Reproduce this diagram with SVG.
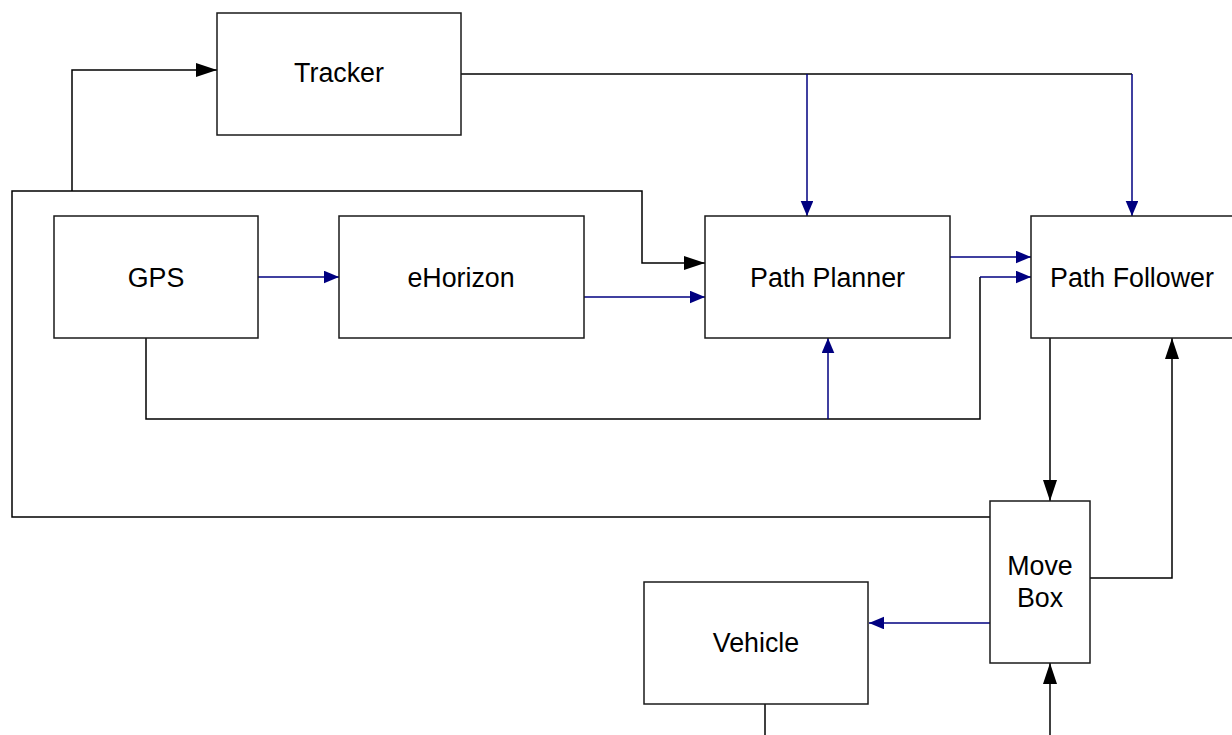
<svg xmlns="http://www.w3.org/2000/svg" width="1232" height="735" viewBox="0 0 1232 735">
<style>
.box{fill:#fff;stroke:#1a1a1a;stroke-width:1.5}
.lbl{font-family:"Liberation Sans",Arial,sans-serif;font-size:26.8px;fill:#000;text-anchor:middle}
.k{fill:none;stroke:#000;stroke-width:1.5}
.b{fill:none;stroke:#000080;stroke-width:1.5}
.ka{marker-end:url(#ah)}
.ba{marker-end:url(#bh)}
</style>
<defs>
<marker id="ah" markerUnits="userSpaceOnUse" markerWidth="22" markerHeight="16" refX="21" refY="7" orient="auto"><path d="M0,0 L21,7 L0,14 Z" fill="#000"/></marker>
<marker id="bh" markerUnits="userSpaceOnUse" markerWidth="16" markerHeight="14" refX="15" refY="6.3" orient="auto"><path d="M0,0 L15,6.3 L0,12.6 Z" fill="#000080"/></marker>
</defs>
<rect width="1232" height="735" fill="#fff"/>
<g id="connectors">
<path class="k ka" d="M990,517 H12 V191 H642 V263 H705"/>
<path class="k ka" d="M72,191 V70 H217"/>
<path class="k" d="M461,74 H1132"/>
<path class="b ba" d="M807,74 V216"/>
<path class="b ba" d="M1132,74 V216"/>
<path class="b ba" d="M258,277 H339"/>
<path class="b ba" d="M584,297 H705"/>
<path class="b ba" d="M950,257 H1031"/>
<path class="k" d="M146,338 V419 H980 V277"/>
<path class="b ba" d="M980,277 H1031"/>
<path class="b ba" d="M828,419 V338"/>
<path class="k ka" d="M1050,338 V501"/>
<path class="k ka" d="M1090,578 H1172 V338"/>
<path class="b ba" d="M990,623 H869"/>
<path class="k" d="M765,704 V735"/>
<path class="k ka" d="M1050,735 V663"/>
</g>
<g id="tracker"><rect class="box" x="217" y="13" width="244" height="122"/><text class="lbl" x="339" y="82">Tracker</text></g>
<g id="gps"><rect class="box" x="54" y="216" width="204" height="122"/><text class="lbl" x="156" y="286.5">GPS</text></g>
<g id="ehorizon"><rect class="box" x="339" y="216" width="245" height="122"/><text class="lbl" x="461" y="286.5">eHorizon</text></g>
<g id="path-planner"><rect class="box" x="705" y="216" width="245" height="122"/><text class="lbl" x="827.5" y="286.5">Path Planner</text></g>
<g id="path-follower"><rect class="box" x="1031" y="216" width="245" height="122"/><text class="lbl" x="1132" y="286.5">Path Follower</text></g>
<g id="move-box"><rect class="box" x="990" y="501" width="100" height="162"/><text class="lbl" x="1040" y="574.5">Move</text><text class="lbl" x="1040" y="606.5">Box</text></g>
<g id="vehicle"><rect class="box" x="644" y="582" width="224" height="122"/><text class="lbl" x="756" y="651.5">Vehicle</text></g>
</svg>
